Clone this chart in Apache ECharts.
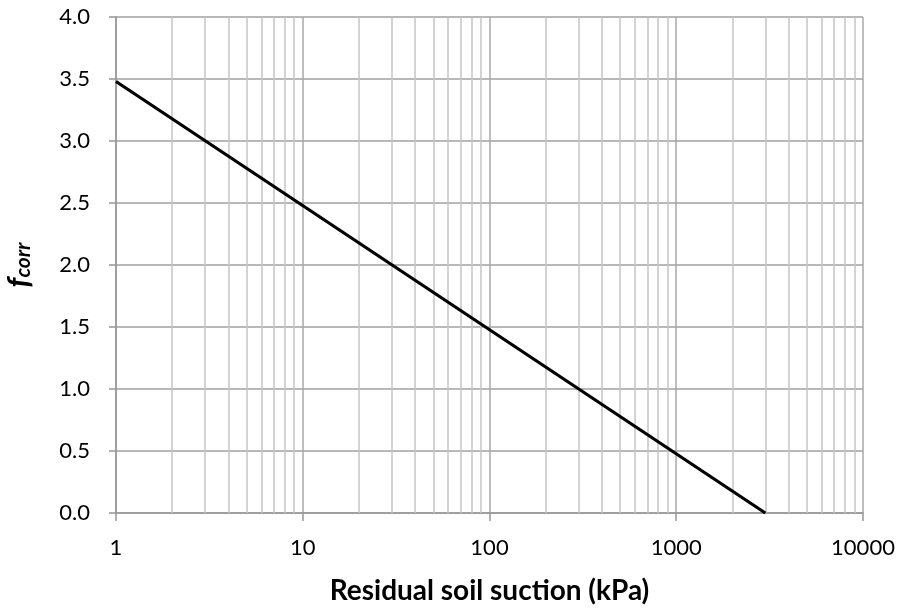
<!DOCTYPE html>
<html><head><meta charset="utf-8">
<script src="https://cdn.jsdelivr.net/npm/echarts@6/dist/echarts.min.js"></script>
<style>html,body{margin:0;padding:0;background:#fff}#c{width:900px;height:609px}</style>
</head><body><div id="c"></div>
<script>
const suction = [1, 3000];
const fcorr = [3.48, 0];
const xTicks = [1, 10, 100, 1000, 10000];
const minorGrid = [2,3,4,5,6,7,8,9,20,30,40,50,60,70,80,90,200,300,400,500,600,700,800,900,2000,3000,4000,5000,6000,7000,8000,9000];
const yTicks = [0, 0.5, 1.0, 1.5, 2.0, 2.5, 3.0, 3.5, 4.0];

const font = 'Lato, "Open Sans", sans-serif';
const chart = echarts.init(document.getElementById('c'), null, {renderer: 'canvas'});
chart.setOption({
  animation: false,
  grid: {left: 116, right: 37, top: 17, bottom: 96, containLabel: false, outerBoundsMode: 'none'},
  xAxis: {
    type: 'log', logBase: 10, min: xTicks[0], max: xTicks[xTicks.length - 1],
    name: 'Residual soil suction (kPa)', nameLocation: 'middle', nameGap: 64,
    nameTextStyle: {fontFamily: font, fontSize: 28, fontWeight: 'bold', color: '#000'},
    axisLine: {lineStyle: {color: '#969696', width: 1.5}},
    axisTick: {show: true, length: 8, lineStyle: {color: '#969696', width: 1.5}},
    axisLabel: {fontFamily: font, fontSize: 22, color: '#000', margin: 24, formatter: v => String(Math.round(v))},
    splitLine: {show: true, lineStyle: {color: '#a8a8a8', width: 1.5}}
  },
  yAxis: {
    type: 'value', min: 0, max: 4, interval: 0.5,
    name: '{f|f}{sub|corr}', nameLocation: 'middle', nameGap: 82, nameRotate: 90,
    nameTextStyle: {
      rich: {
        f: {fontFamily: font, fontSize: 30, fontWeight: 'bold', fontStyle: 'italic', color: '#000', verticalAlign: 'bottom'},
        sub: {fontFamily: font, fontSize: 21, fontWeight: 'bold', fontStyle: 'italic', color: '#000', verticalAlign: 'bottom', padding: [10, 0, 0, 0]}
      }
    },
    axisLine: {show: true, lineStyle: {color: '#969696', width: 1.5}},
    axisTick: {show: true, length: 7, lineStyle: {color: '#969696', width: 1.5}},
    axisLabel: {fontFamily: font, fontSize: 22, color: '#000', margin: 26, formatter: v => v.toFixed(1)},
    splitLine: {show: true, lineStyle: {color: '#a0a0a0', width: 1.5}}
  },
  series: [{
    type: 'line',
    data: suction.map((s, i) => [s, fcorr[i]]),
    symbol: 'none',
    lineStyle: {color: '#000', width: 3.2},
    markLine: {
      silent: true, symbol: 'none', label: {show: false},
      lineStyle: {color: '#c4c4c4', width: 1.5, type: 'solid'},
      data: minorGrid.map(v => ({xAxis: v}))
    },
    z: 5
  }]
});
</script></body></html>
